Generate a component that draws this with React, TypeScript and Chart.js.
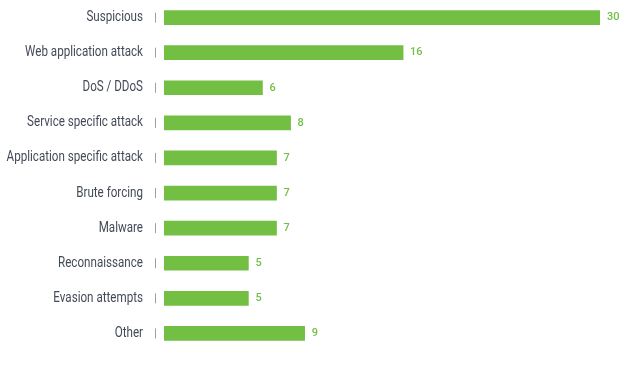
import React, { useEffect, useRef } from "react";
import { Chart, registerables } from "chart.js";

Chart.register(...registerables);

const categories = [
  "Suspicious",
  "Web application attack",
  "DoS / DDoS",
  "Service specific attack",
  "Application specific attack",
  "Brute forcing",
  "Malware",
  "Reconnaissance",
  "Evasion attempts",
  "Other",
];
const values = [30, 16, 6, 8, 7, 7, 7, 5, 5, 9];

const GREEN = "#72bf44";
const TEXT = "#434a57";

const extras = {
  id: "extras",
  afterDatasetsDraw(chart: any) {
    const ctx = chart.ctx;
    const meta = chart.getDatasetMeta(0);
    const yScale = chart.scales.y;
    const left = chart.chartArea.left;
    ctx.save();
    // tick marks and category labels
    ctx.strokeStyle = "#9aa0a8";
    ctx.lineWidth = 1;
    yScale.ticks.forEach((_t: any, i: number) => {
      const y = yScale.getPixelForTick(i);
      const x = Math.round(left - 9) + 0.5;
      ctx.beginPath();
      ctx.moveTo(x, y - 5);
      ctx.lineTo(x, y + 5);
      ctx.stroke();
      ctx.save();
      ctx.fillStyle = TEXT;
      ctx.font = "400 14px Roboto, sans-serif";
      ctx.textBaseline = "middle";
      ctx.textAlign = "right";
      ctx.translate(left - 21, y);
      ctx.scale(0.83, 1);
      ctx.fillText(String(yScale.getLabelForValue(i)), 0, 0);
      ctx.restore();
    });
    // value labels
    ctx.fillStyle = GREEN;
    ctx.font = "500 11px Roboto, sans-serif";
    ctx.textBaseline = "middle";
    ctx.textAlign = "left";
    meta.data.forEach((bar: any, i: number) => {
      ctx.fillText(String(values[i]), bar.x + 7, bar.y);
    });
    ctx.restore();
  },
};

export default function App() {
  const ref = useRef<HTMLCanvasElement>(null);
  useEffect(() => {
    if (!ref.current) return;
    const chart = new Chart(ref.current, {
      type: "bar",
      data: {
        labels: categories,
        datasets: [
          {
            data: values,
            base: -1,
            backgroundColor: GREEN,
            borderWidth: 0,
            barThickness: 14,
          } as any,
        ],
      },
      options: {
        indexAxis: "y",
        animation: false,
        responsive: false,
        maintainAspectRatio: false,
        layout: { padding: { top: 0, bottom: 16, right: 25, left: 0 } },
        plugins: { legend: { display: false }, tooltip: { enabled: false } },
        scales: {
          x: {
            display: false,
            min: -1,
            max: 30,
          },
          y: {
            grid: { display: false, drawTicks: false },
            border: { display: false },
            afterFit(scale: any) {
              scale.width = 164;
              scale.paddingTop = 0;
              scale.paddingBottom = 0;
            },
            ticks: { display: false, padding: 0 },
          },
        },
      },
      plugins: [extras],
    });
    return () => chart.destroy();
  }, []);
  return (
    <div style={{ position: "fixed", left: 0, top: 0, width: 625, height: 367, background: "#fff" }}>
      <canvas ref={ref} width={625} height={367} style={{ width: 625, height: 367 }} />
    </div>
  );
}
